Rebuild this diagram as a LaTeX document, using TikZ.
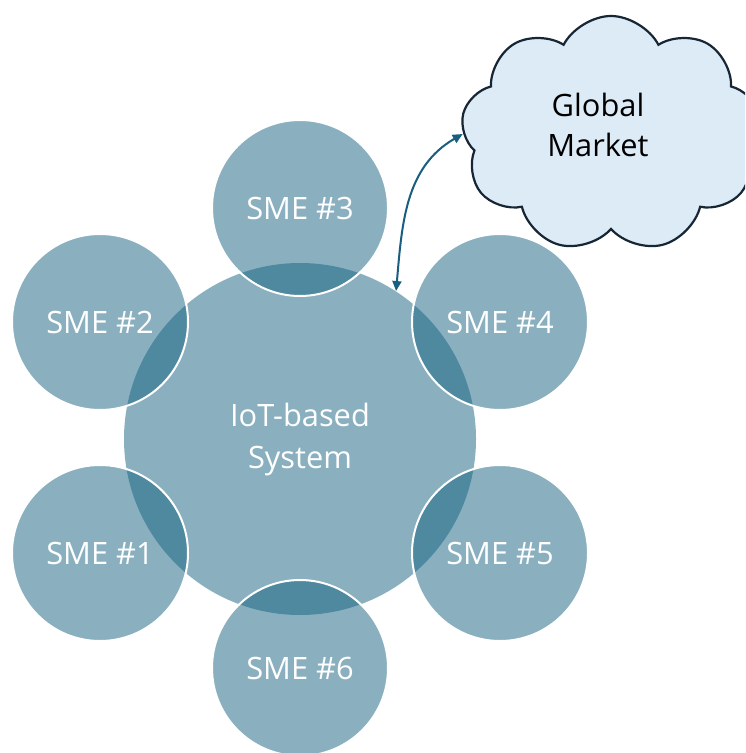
\documentclass[tikz,border=0pt]{standalone}
\usepackage{fontspec}
\setmainfont{Open Sans}
\usetikzlibrary{shapes.symbols,arrows.meta}

\definecolor{smeblue}{RGB}{21,98,129}
\definecolor{cloudfill}{RGB}{221,235,247}
\definecolor{cloudline}{RGB}{22,38,52}
\definecolor{linkblue}{RGB}{24,94,128}

\begin{document}
\begin{tikzpicture}[
    x = 0.5pt, y = -0.5pt,
    every node/.style = {font = \fontsize{15.4}{21}\selectfont},
    hub/.style = {circle, fill = smeblue, fill opacity = 0.5, text opacity = 1,
        text = white, minimum size = 176pt, inner sep = 0pt, align = center},
    sme/.style = {circle, fill = smeblue, fill opacity = 0.5, text opacity = 1,
        draw = white, line width = 1pt, text = white, minimum size = 88pt},
    market/.style = {cloud, cloud puffs = 9, cloud puff arc = 125, aspect = 1.2,
        draw = cloudline, line width = 1.1pt, fill = cloudfill,
        minimum width = 150pt, minimum height = 118pt},
    marketlabel/.style = {text = black, align = center,
        font = \fontsize{15.4}{20}\selectfont},
    link/.style = {linkblue, line width = 1pt,
        {Triangle[length = 5pt, width = 4.5pt]}-{Triangle[length = 5pt, width = 4.5pt]}}]

\clip (0,0) rectangle (745,753);

% central system and the six SMEs round it
\node[hub] (iot) at (300,439) {IoT-based\\System};
\foreach \n/\px/\py in {1/100/553, 2/100/322, 3/300/208, 4/500/322, 5/500/553, 6/300/668}
    \node[sme] (sme\n) at (\px,\py) {SME \#\n};

% market
\node[market] (gm) at (611,134) {};
\node[marketlabel] (gmtext) at (598,125) {Global\\Market};
\draw[link] (iot.57) to[out=85, in=210] (gm.west);
\end{tikzpicture}
\end{document}
